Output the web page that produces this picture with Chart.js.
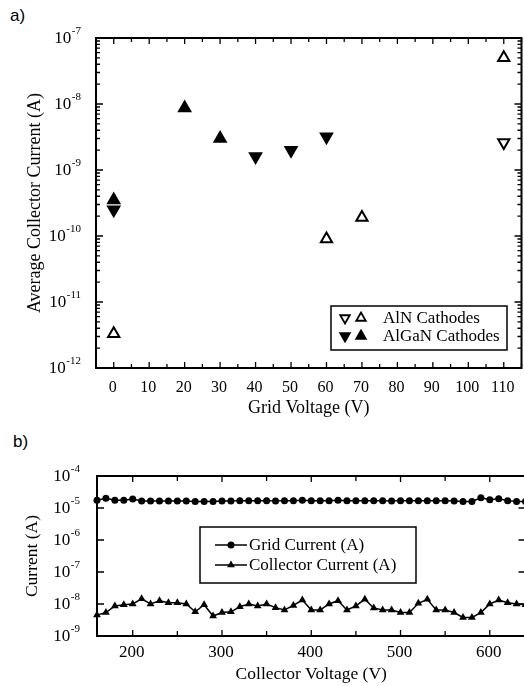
<!DOCTYPE html>
<html>
<head>
<meta charset="utf-8">
<title>Cathode currents</title>
<script src="https://cdn.jsdelivr.net/npm/chart.js@4.4.1/dist/chart.umd.min.js"></script>
<style>
  html, body { margin: 0; padding: 0; background: #fff; overflow: hidden; }
  body { width: 524px; height: 686px; position: relative; }
  canvas { position: absolute; left: 0; }
  #chart-a { top: 0; }
  #chart-b { top: 425px; }
  .panel { position: absolute; font: 17px "Liberation Sans", Arial, sans-serif; color: #000; }
</style>
</head>
<body>
<div class="panel" style="left:10px;top:6px">a)</div>
<div class="panel" style="left:13px;top:432px">b)</div>
<canvas id="chart-a" width="530" height="425"></canvas>
<canvas id="chart-b" width="530" height="261"></canvas>
<script>
// a) average collector current vs grid voltage
const alnDownV = [110];
const alnDownI = [2.6e-9];
const alnUpV = [0, 60, 70, 110];
const alnUpI = [3.3e-12, 9.0e-11, 1.9e-10, 5.0e-8];
const alganDownV = [0, 40, 50, 60];
const alganDownI = [2.5e-10, 1.6e-9, 2.0e-9, 3.2e-9];
const alganUpV = [0, 20, 30];
const alganUpI = [3.5e-10, 8.7e-9, 3.0e-9];
const gridVoltLabels = [0, 10, 20, 30, 40, 50, 60, 70, 80, 90, 100, 110];
const expLabelsA = [-12, -11, -10, -9, -8, -7];

// b) grid and collector current vs collector voltage
const collectorVolt = [160, 170, 180, 190, 200, 210, 220, 230, 240, 250, 260, 270, 280, 290, 300, 310,
    320, 330, 340, 350, 360, 370, 380, 390, 400, 410, 420, 430, 440, 450, 460, 470, 480, 490, 500,
    510, 520, 530, 540, 550, 560, 570, 580, 590, 600, 610, 620, 630, 640];
const gridCurrent = [1.75e-5, 2.0e-5, 1.75e-5, 1.75e-5, 1.9e-5, 1.65e-5, 1.65e-5, 1.65e-5, 1.65e-5, 1.65e-5,
    1.65e-5, 1.6e-5, 1.6e-5, 1.6e-5, 1.65e-5, 1.65e-5, 1.7e-5, 1.7e-5, 1.7e-5, 1.7e-5, 1.65e-5, 1.7e-5,
    1.7e-5, 1.75e-5, 1.7e-5, 1.7e-5, 1.7e-5, 1.75e-5, 1.7e-5, 1.7e-5, 1.7e-5, 1.7e-5, 1.7e-5, 1.65e-5,
    1.7e-5, 1.7e-5, 1.7e-5, 1.7e-5, 1.7e-5, 1.7e-5, 1.65e-5, 1.6e-5, 1.6e-5, 2.1e-5, 1.8e-5, 1.95e-5,
    1.7e-5, 1.6e-5, 1.6e-5];
const collectorCurrent = [4.5e-9, 5.4e-9, 8.7e-9, 9.5e-9, 1.0e-8, 1.45e-8, 1.0e-8, 1.27e-8, 1.1e-8, 1.1e-8,
    1.0e-8, 5.7e-9, 9.5e-9, 4.2e-9, 5.4e-9, 5.7e-9, 8.2e-9, 1.0e-8, 8.7e-9, 1.0e-8, 7.7e-9, 6.5e-9,
    9.0e-9, 1.33e-8, 6.5e-9, 6.5e-9, 1.0e-8, 1.27e-8, 6.5e-9, 8.7e-9, 1.4e-8, 7.5e-9, 6.5e-9, 6.5e-9,
    5.4e-9, 5.4e-9, 1.05e-8, 1.4e-8, 6.5e-9, 6.5e-9, 5.4e-9, 3.8e-9, 3.8e-9, 5.4e-9, 1.0e-8, 1.33e-8,
    1.1e-8, 1.0e-8, 9.5e-9];
const collectorVoltLabels = [200, 300, 400, 500, 600];
const expLabelsB = [-9, -8, -7, -6, -5, -4];

const SERIF = '"Liberation Serif", "Times New Roman", serif';

function triangle(ctx, x, y, r, down) {
    const s = down ? -1 : 1;
    ctx.beginPath();
    ctx.moveTo(x, y - s * r);
    ctx.lineTo(x + 0.866 * r, y + s * 0.5 * r);
    ctx.lineTo(x - 0.866 * r, y + s * 0.5 * r);
    ctx.closePath();
}

function drawPower(ctx, exp, xRight, y) {
    const sup = '-' + Math.abs(exp);
    ctx.textAlign = 'right';
    ctx.textBaseline = 'middle';
    ctx.font = '11px ' + SERIF;
    const w = ctx.measureText(sup).width;
    ctx.fillText(sup, xRight, y - 7);
    ctx.font = '17px ' + SERIF;
    ctx.fillText('10', xRight - w - 0.5, y + 1);
}

// box round the plot, inward ticks on all four sides, tick labels
const axesBox = {
    id: 'axesBox',
    afterDraw(chart, args, o) {
        const { ctx, chartArea: a } = chart;
        const xs = chart.scales.x, ys = chart.scales.y;
        ctx.save();
        ctx.strokeStyle = '#000';
        ctx.fillStyle = '#000';
        ctx.lineWidth = 2;
        ctx.strokeRect(a.left, a.top, a.right - a.left, a.bottom - a.top);

        ctx.lineWidth = 1.3;
        ctx.beginPath();
        for (let v = Math.ceil(xs.min / o.xStep) * o.xStep; v <= xs.max; v += o.xStep) {
            const px = xs.getPixelForValue(v);
            const len = v % o.xMajor === 0 ? o.majorLen : o.minorLen;
            ctx.moveTo(px, a.bottom); ctx.lineTo(px, a.bottom - len);
            ctx.moveTo(px, a.top); ctx.lineTo(px, a.top + len);
        }
        const e0 = Math.round(Math.log10(ys.min)), e1 = Math.round(Math.log10(ys.max));
        for (let e = e0; e <= e1; e++) {
            for (let m = 1; m <= (o.yMinor ? 9 : 1); m++) {
                const v = m * Math.pow(10, e);
                if (v > ys.max * 1.0001) break;
                const py = ys.getPixelForValue(v);
                const len = m === 1 ? o.majorLen + 1 : o.minorLen;
                ctx.moveTo(a.left, py); ctx.lineTo(a.left + len, py);
                ctx.moveTo(a.right, py); ctx.lineTo(a.right - len, py);
            }
        }
        ctx.stroke();

        ctx.font = o.xFont + 'px ' + SERIF;
        ctx.textAlign = 'center';
        ctx.textBaseline = 'middle';
        o.xLabels.forEach(v => ctx.fillText(String(v), xs.getPixelForValue(v) - 1, a.bottom + o.xLabelGap));
        o.yExps.forEach(e => drawPower(ctx, e, o.yLabelRight, ys.getPixelForValue(Math.pow(10, e))));
        ctx.restore();
    }
};

const legendA = {
    id: 'legendA',
    afterDraw(chart) {
        const ctx = chart.ctx;
        ctx.save();
        ctx.fillStyle = '#fff';
        ctx.fillRect(331, 306, 176, 44);
        ctx.strokeStyle = '#000';
        ctx.lineWidth = 1.5;
        ctx.strokeRect(331, 306, 176, 44);
        [[318, false, 'AlN Cathodes'], [336, true, 'AlGaN Cathodes']].forEach(([y, filled, text]) => {
            [[345, true], [361, false]].forEach(([x, down]) => {
                triangle(ctx, x, y, 5.5, down);
                ctx.fillStyle = filled ? '#000' : '#fff';
                ctx.fill();
                ctx.lineWidth = 1.8;
                ctx.stroke();
            });
            ctx.fillStyle = '#000';
            ctx.font = '17px ' + SERIF;
            ctx.textAlign = 'left';
            ctx.textBaseline = 'middle';
            ctx.fillText(text, 383, y + 1);
        });
        ctx.restore();
    }
};

const legendB = {
    id: 'legendB',
    afterDraw(chart) {
        const ctx = chart.ctx;
        ctx.save();
        ctx.fillStyle = '#fff';
        ctx.fillRect(200, 102, 216, 56);
        ctx.strokeStyle = '#000';
        ctx.lineWidth = 1.5;
        ctx.strokeRect(200, 102, 216, 56);
        [[120, 'circle', 'Grid Current (A)'], [140, 'triangle', 'Collector Current (A)']].forEach(([y, mark, text]) => {
            ctx.beginPath();
            ctx.moveTo(215, y); ctx.lineTo(247, y);
            ctx.lineWidth = 1.5;
            ctx.stroke();
            ctx.fillStyle = '#000';
            if (mark === 'circle') {
                ctx.beginPath();
                ctx.arc(231, y, 3.5, 0, Math.PI * 2);
            } else {
                triangle(ctx, 231, y, 4.5, false);
            }
            ctx.fill();
            ctx.font = '17px ' + SERIF;
            ctx.textAlign = 'left';
            ctx.textBaseline = 'middle';
            ctx.fillText(text, 249, y + 1);
        });
        ctx.restore();
    }
};

function axisTitle(text, size, padding) {
    return { display: true, text: text, color: '#000', padding: padding,
             font: { family: SERIF, size: size, lineHeight: 1 } };
}

function triSet(label, xs, ys, down, filled) {
    return {
        label: label,
        data: xs.map((x, i) => ({ x: x, y: ys[i] })),
        pointStyle: 'triangle',
        pointRotation: down ? 180 : 0,
        pointRadius: 6.5,
        pointHoverRadius: 6.5,
        pointBackgroundColor: filled ? '#000' : '#fff',
        pointBorderColor: '#000',
        pointBorderWidth: 2,
        clip: false
    };
}

function buildCathodeChart(container) {
    new Chart(container, {
        type: 'scatter',
        data: {
            datasets: [
                triSet('AlN Cathodes', alnDownV, alnDownI, true, false),
                triSet('AlN Cathodes', alnUpV, alnUpI, false, false),
                triSet('AlGaN Cathodes', alganDownV, alganDownI, true, true),
                triSet('AlGaN Cathodes', alganUpV, alganUpI, false, true)
            ]
        },
        options: {
            responsive: false,
            animation: false,
            events: [],
            layout: { padding: { left: 0, top: 38, right: 5, bottom: 0 } },
            plugins: {
                legend: { display: false },
                tooltip: { enabled: false },
                axesBox: { xStep: 5, xMajor: 10, majorLen: 6, minorLen: 4, yMinor: true,
                           xFont: 16, xLabels: gridVoltLabels, xLabelGap: 20,
                           yExps: expLabelsA, yLabelRight: 81 }
            },
            scales: {
                x: {
                    type: 'linear', min: -5, max: 115,
                    ticks: { display: false }, grid: { display: false }, border: { display: false },
                    title: axisTitle('Grid Voltage (V)', 18, { top: 0, bottom: 8 }),
                    afterFit: s => { s.height = 57; }
                },
                y: {
                    type: 'logarithmic', min: 1e-12, max: 1e-7,
                    ticks: { display: false }, grid: { display: false }, border: { display: false },
                    title: axisTitle('Average Collector Current (A)', 18, { top: 26.5, bottom: 0 }),
                    afterFit: s => { s.width = 96; }
                }
            }
        },
        plugins: [axesBox, legendA]
    });
}

function buildSweepChart(container) {
    new Chart(container, {
        type: 'line',
        data: {
            datasets: [
                {
                    label: 'Grid Current (A)',
                    data: collectorVolt.map((v, i) => ({ x: v, y: gridCurrent[i] })),
                    borderColor: '#000', borderWidth: 1.5,
                    pointStyle: 'circle', pointRadius: 3.5, pointHoverRadius: 3.5,
                    pointBackgroundColor: '#000', pointBorderWidth: 0,
                    tension: 0, clip: false
                },
                {
                    label: 'Collector Current (A)',
                    data: collectorVolt.map((v, i) => ({ x: v, y: collectorCurrent[i] })),
                    borderColor: '#000', borderWidth: 1.5,
                    pointStyle: 'triangle', pointRadius: 4.5, pointHoverRadius: 4.5,
                    pointBackgroundColor: '#000', pointBorderWidth: 0,
                    tension: 0, clip: false
                }
            ]
        },
        options: {
            responsive: false,
            animation: false,
            events: [],
            layout: { padding: { left: 0, top: 51, right: 3.4, bottom: 0 } },
            plugins: {
                legend: { display: false },
                tooltip: { enabled: false },
                axesBox: { xStep: 50, xMajor: 100, majorLen: 6, minorLen: 5, yMinor: false,
                           xFont: 17, xLabels: collectorVoltLabels, xLabelGap: 17,
                           yExps: expLabelsB, yLabelRight: 80 }
            },
            scales: {
                x: {
                    type: 'linear', min: 160, max: 640,
                    ticks: { display: false }, grid: { display: false }, border: { display: false },
                    title: axisTitle('Collector Voltage (V)', 17.5, { top: 0, bottom: 3.25 }),
                    afterFit: s => { s.height = 50; }
                },
                y: {
                    type: 'logarithmic', min: 1e-9, max: 1e-4,
                    ticks: { display: false }, grid: { display: false }, border: { display: false },
                    title: axisTitle('Current (A)', 17.5, { top: 23.25, bottom: 0 }),
                    afterFit: s => { s.width = 97; }
                }
            }
        },
        plugins: [axesBox, legendB]
    });
}

addEventListener('DOMContentLoaded', () => {
    const cathodeContainer = document.getElementById('chart-a');
    const sweepContainer = document.getElementById('chart-b');
    if (cathodeContainer) buildCathodeChart(cathodeContainer);
    if (sweepContainer) buildSweepChart(sweepContainer);
});
</script>
</body>
</html>
